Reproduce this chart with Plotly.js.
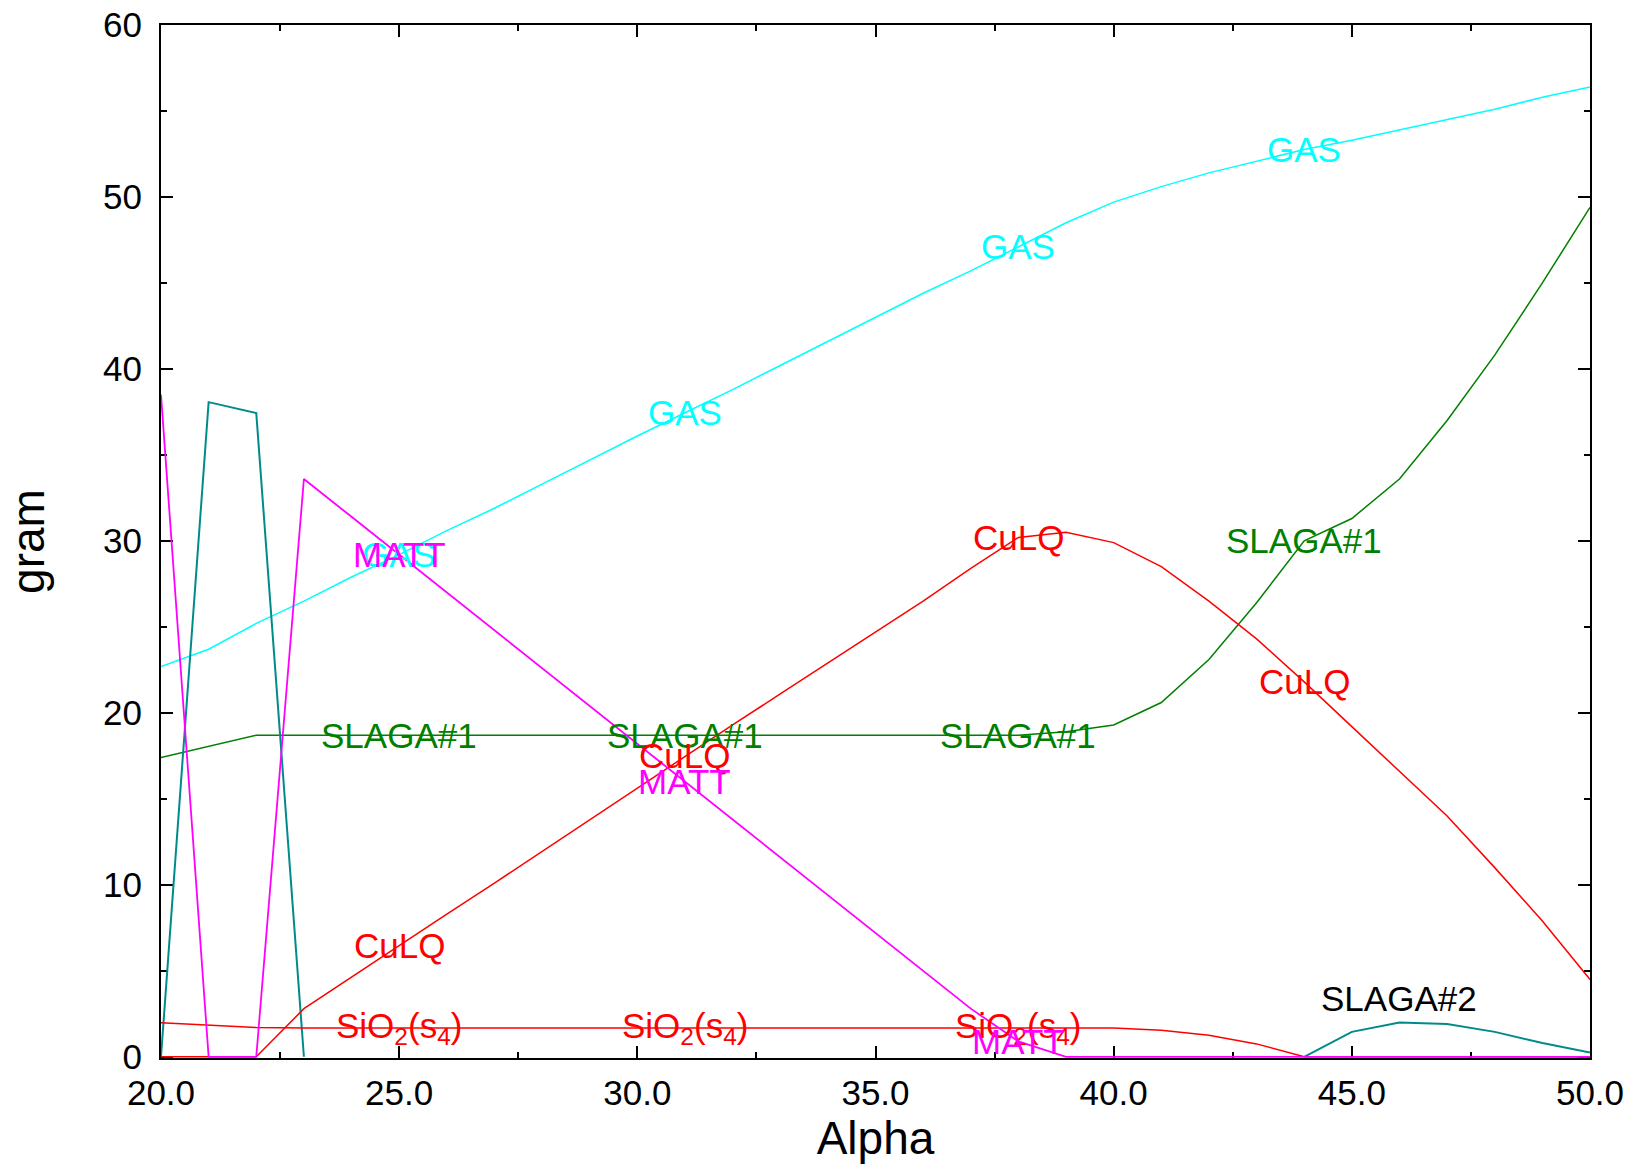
<!DOCTYPE html>
<html>
<head>
<meta charset="utf-8">
<script src="https://cdn.plot.ly/plotly-3.0.1.min.js"></script>
<style>html,body{margin:0;padding:0;background:#fff;}#chart{width:1639px;height:1172px;}</style>
</head>
<body>
<div id="chart"></div>
<script>
// ---- data ----
const alpha = [20,21,22,23,24,25,26,27,28,29,30,31,32,33,34,35,36,37,38,39,40,41,42,43,44,45,46,47,48,49,50];
const gas    = [22.7,23.7,25.2,26.5,27.9,29.2,30.6,31.9,33.3,34.7,36.1,37.45,38.8,40.2,41.6,43.0,44.4,45.7,47.1,48.5,49.7,50.6,51.4,52.1,52.76,53.3,53.9,54.5,55.1,55.8,56.4];
const slaga1 = [17.4,18.05,18.7,18.7,18.7,18.7,18.7,18.7,18.7,18.7,18.7,18.7,18.7,18.7,18.7,18.7,18.7,18.7,18.7,18.9,19.3,20.6,23.1,26.4,30.0,31.3,33.6,37.0,40.8,45.0,49.4];
const slaga2 = [0,38.07,37.43,0,null,null,null,null,null,null,null,null,null,null,null,null,null,null,null,null,null,null,null,null,0,1.45,2.0,1.9,1.45,0.8,0.25];
const culq   = [0,0,0,2.8,4.65,6.5,8.3,10.1,11.95,13.8,15.6,17.5,19.3,21.1,22.9,24.7,26.5,28.4,30.2,30.5,29.9,28.5,26.5,24.3,21.8,19.2,16.6,14.0,11.0,7.9,4.5];
const sio2   = [1.98,1.82,1.70,1.68,1.68,1.68,1.68,1.68,1.68,1.68,1.68,1.68,1.68,1.68,1.68,1.68,1.68,1.68,1.68,1.68,1.68,1.55,1.25,0.75,0,0,0,0,0,0,0];
const matt   = [38.5,0,0,33.6,31.4,29.2,27.0,24.8,22.6,20.4,18.2,16.0,13.8,11.6,9.4,7.2,5.0,2.8,0.9,0,0,0,0,0,0,0,0,0,0,0,0];
const xTicks = [20,25,30,35,40,45,50];
const xTickText = ["20.0","25.0","30.0","35.0","40.0","45.0","50.0"];
const yTicks = [0,10,20,30,40,50,60];

// ---- series definitions ----
const series = [
  {name:"GAS",     y:gas,    color:"#00FFFF", width:1.5, labelAt:[25,31,38,44], labelColor:"#00FFFF", text:"GAS"},
  {name:"SLAGA#1", y:slaga1, color:"#008000", width:1.5, labelAt:[25,31,38,44], labelColor:"#008000", text:"SLAGA#1"},
  {name:"SLAGA#2", y:slaga2, color:"#008B8B", width:2,   labelAt:[46],          labelColor:"#000000", text:"SLAGA#2", yshift:24},
  {name:"CuLQ",    y:culq,   color:"#FF0000", width:1.5, labelAt:[25,31,38,44], labelColor:"#FF0000", text:"CuLQ"},
  {name:"SiO2(s4)",y:sio2,   color:"#FF0000", width:1.5, labelAt:[25,31,38],    labelColor:"#FF0000", text:"SiO<sub>2</sub>(s<sub>4</sub>)"},
  {name:"MATT",    y:matt,   color:"#FF00FF", width:1.8, labelAt:[25,31,38],    labelColor:"#FF00FF", text:"MATT"}
];

const FONT = "Liberation Sans, Arial, sans-serif";

const traces = series.map(s => ({
  type:"scatter", mode:"lines", x:alpha, y:s.y, name:s.name,
  line:{color:s.color, width:s.width}, connectgaps:false, hoverinfo:"skip"
}));

const annotations = [];
series.forEach(s => {
  s.labelAt.forEach(xv => {
    const i = alpha.indexOf(xv);
    annotations.push({
      x:xv, y:s.y[i], xref:"x", yref:"y", text:s.text, showarrow:false,
      xanchor:"center", yanchor:"middle", yshift:s.yshift||0,
      font:{family:FONT, size:35, color:s.labelColor}
    });
  });
});

const axisCommon = {
  showline:true, linecolor:"#000", linewidth:2, mirror:"ticks",
  ticks:"inside", ticklen:12, tickwidth:2, tickcolor:"#000",
  showgrid:false, zeroline:false, layer:"below traces",
  tickfont:{family:FONT, size:35, color:"#000"}
};

const layout = {
  width:1639, height:1172,
  margin:{l:161, r:49, t:25, b:114},
  paper_bgcolor:"#fff", plot_bgcolor:"#fff",
  showlegend:false,
  font:{family:FONT, color:"#000"},
  xaxis:Object.assign({}, axisCommon, {
    range:[20,50], tickmode:"array", tickvals:xTicks, ticktext:xTickText,
    minor:{dtick:2.5, ticks:"inside", ticklen:6, tickwidth:2, tickcolor:"#000"},
    ticklabelstandoff:3,
    title:{text:"Alpha", font:{family:FONT, size:46, color:"#000"}, standoff:9}
  }),
  yaxis:Object.assign({}, axisCommon, {
    range:[-0.07,60], tickmode:"array", tickvals:yTicks,
    minor:{dtick:5, ticks:"inside", ticklen:6, tickwidth:2, tickcolor:"#000"},
    ticklabelstandoff:10,
    title:{text:"gram", font:{family:FONT, size:46, color:"#000"}, standoff:44}
  }),
  annotations:annotations
};

Plotly.newPlot("chart", traces, layout, {staticPlot:true, displayModeBar:false});
</script>
</body>
</html>
